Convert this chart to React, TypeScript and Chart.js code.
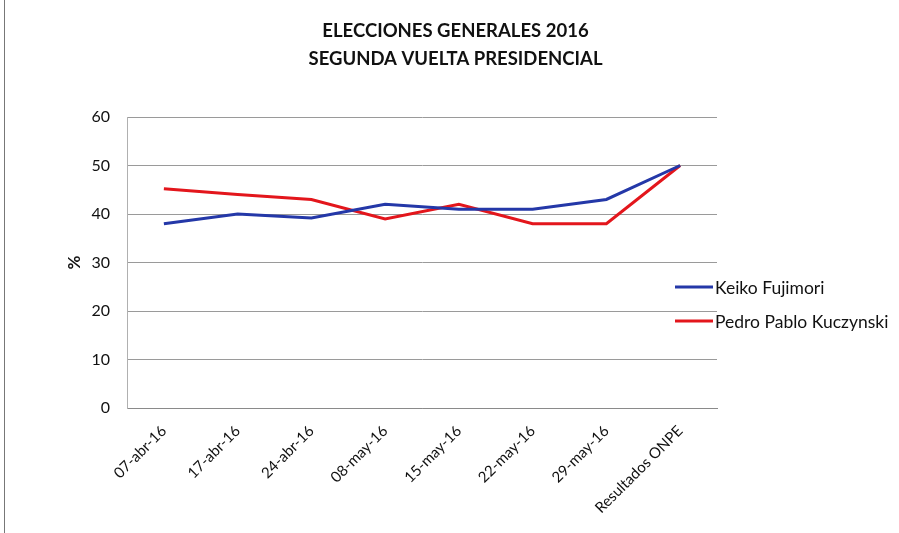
import React, { useEffect, useRef } from "react";
import { Chart, registerables } from "chart.js";

Chart.register(...registerables);

const titleLines = ["ELECCIONES GENERALES 2016", "SEGUNDA VUELTA PRESIDENCIAL"];
const categories = ["07-abr-16", "17-abr-16", "24-abr-16", "08-may-16", "15-may-16", "22-may-16", "29-may-16", "Resultados ONPE"];
const keiko = [38, 40, 39.2, 42, 41, 41, 43, 50];
const ppk = [45.2, 44, 43, 39, 42, 38, 38, 50];
const seriesNames = ["Keiko Fujimori", "Pedro Pablo Kuczynski"];
const seriesColors = ["#2438a8", "#e3161c"];
const yTitle = "%";

const FONT = "Lato, 'Open Sans', sans-serif";

const decorPlugin = {
  id: "decor",
  afterDraw(chart: any) {
    const { ctx, chartArea, width } = chart;
    ctx.save();
    ctx.fillStyle = "#111";
    ctx.font = `bold 18.5px ${FONT}`;
    ctx.textAlign = "center";
    ctx.textBaseline = "middle";
    titleLines.forEach((t, i) => ctx.fillText(t, width / 2 + 6, 31 + i * 28));
    // legend
    ctx.font = `17.5px ${FONT}`;
    ctx.textAlign = "left";
    seriesNames.forEach((name, i) => {
      const y = chartArea.top + 170 + i * 34;
      const x0 = chartArea.right - 42;
      ctx.strokeStyle = seriesColors[i];
      ctx.lineWidth = 3;
      ctx.beginPath();
      ctx.moveTo(x0, y);
      ctx.lineTo(x0 + 38, y);
      ctx.stroke();
      ctx.fillStyle = "#111";
      ctx.fillText(name, x0 + 40, y + 1);
    });
    ctx.restore();
  },
};

export default function App() {
  const ref = useRef<HTMLCanvasElement>(null);
  useEffect(() => {
    document.body.style.margin = "0";
    const chart = new Chart(ref.current!, {
      type: "line",
      data: {
        labels: categories,
        datasets: [
          { label: seriesNames[0], data: keiko, borderColor: seriesColors[0], backgroundColor: seriesColors[0], borderWidth: 3, pointRadius: 0, tension: 0 },
          { label: seriesNames[1], data: ppk, borderColor: seriesColors[1], backgroundColor: seriesColors[1], borderWidth: 3, pointRadius: 0, tension: 0 },
        ],
      },
      options: {
        animation: false,
        responsive: false,
        maintainAspectRatio: false,
        layout: { padding: { left: 60, top: 117, right: 182, bottom: 0 } },
        plugins: { legend: { display: false }, title: { display: false }, tooltip: { enabled: false } },
        scales: {
          x: {
            offset: true,
            grid: { display: false, drawTicks: false },
            border: { display: true, color: "#8a8a8a", width: 1 },
            ticks: { color: "#111", font: { family: FONT, size: 15 }, minRotation: 45, maxRotation: 45, autoSkip: false, padding: 14 },
            afterFit: (s: any) => { s.height = 125; },
          },
          y: {
            min: 0,
            max: 60,
            grid: { color: "#9a9a9a", lineWidth: 1, drawTicks: false },
            border: { display: true, color: "#b0b0b0", width: 1 },
            ticks: { stepSize: 10, color: "#111", font: { family: FONT, size: 16 }, padding: 17 },
            title: { display: true, text: yTitle, color: "#111", font: { family: FONT, size: 17, weight: "bold" } },
            afterFit: (s: any) => { s.width = 67; },
          },
        },
      },
      plugins: [decorPlugin],
    });
    return () => chart.destroy();
  }, []);
  return (
    <div style={{ position: "relative", width: 899, height: 533, background: "#fff" }}>
      <div style={{ position: "absolute", left: 4, top: 0, width: 1, height: 533, background: "#777" }} />
      <canvas ref={ref} width={899} height={533} style={{ display: "block" }} />
    </div>
  );
}
